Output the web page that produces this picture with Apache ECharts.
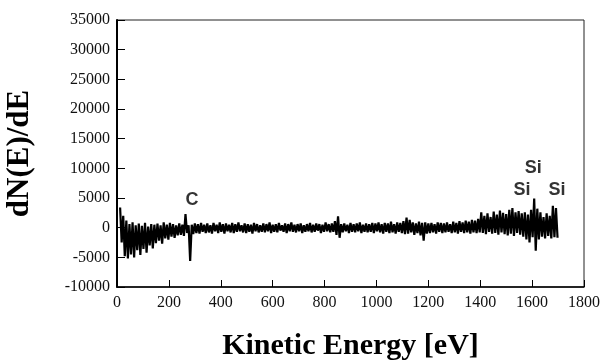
<!DOCTYPE html>
<html>
<head>
<meta charset="utf-8">
<script src="https://cdn.jsdelivr.net/npm/echarts@6/dist/echarts.min.js"></script>
<style>
  html, body { margin: 0; padding: 0; background: #fff; }
  #chart { width: 610px; height: 363px; }
</style>
</head>
<body>
<div id="chart"></div>
<script>
// spectrum sampled every 6 eV starting at 12 eV
const startEnergy = 12;
const stepEnergy = 6;
const signal = [
  3400, -2500, 2000, -4800, 1200, -5200, 600, -4500, 900, -5000,
  400, -3800, 700, -4600, 300, -3600, 800, -4200, 200, -3000,
  600, -3500, 500, -2600, 700, -2200, 400, -2700, 900, -1800,
  500, -2000, 800, -1500, 600, -1700, 400, -1300, 700, -1200,
  500, -1400, 2300, -900, 400, -5600, 500, -1100, 700, -900,
  600, -1000, 800, -700, 500, -900, 700, -800, 400, -1000,
  800, -600, 500, -900, 900, -700, 600, -1000, 700, -600,
  500, -800, 800, -900, 600, -700, 900, -600, 400, -800,
  700, -900, 600, -700, 500, -1000, 800, -600, 600, -800,
  400, -700, 700, -800, 600, -600, 900, -900, 500, -700,
  600, -800, 800, -500, 400, -700, 700, -900, 600, -600,
  900, -700, 500, -800, 600, -600, 700, -900, 400, -700,
  600, -600, 800, -800, 500, -700, 700, -500, 600, -900,
  500, -700, 900, -600, 600, -800, 700, -700, 1100, -1200,
  1900, -1700, 600, -800, 700, -600, 500, -900, 800, -700,
  600, -800, 700, -600, 900, -900, 500, -700, 700, -800,
  600, -700, 800, -900, 700, -600, 900, -800, 600, -1000,
  800, -700, 700, -900, 1000, -800, 600, -1000, 900, -700,
  800, -900, 1100, -1100, 1700, -1000, 1300, -800, 900, -1200,
  700, -900, 1000, -1300, 800, -2200, 900, -1000, 700, -900,
  800, -800, 600, -1000, 900, -700, 800, -900, 700, -800,
  900, -700, 600, -900, 1000, -800, 800, -1000, 1100, -700,
  900, -900, 1200, -800, 1000, -1000, 1300, -800, 1200, -900,
  1500, -800, 2600, -900, 2000, -1100, 2400, -700, 1800, -1000,
  2700, -900, 2200, -1200, 2900, -800, 2500, -1100, 2300, -1300,
  3000, -1000, 3300, -1400, 2600, -900, 2800, -1200, 2400, -1500,
  2600, -2000, 2200, -2500, 3000, -1600, 4900, -3900, 3200, -2000,
  2600, -1500, 1800, -1800, 2400, -1400, 2000, -1800, 3700, -1600,
  3300, -1700
];

// peak labels
const peakNames = ["C", "Si", "Si", "Si"];
const peakEnergy = [289, 1604, 1561, 1696];
const peakLevel = [4620, 10100, 6340, 6340];

const xTicks = { min: 0, max: 1800, interval: 200 };
const yTicks = { min: -10000, max: 35000, interval: 5000 };

const chart = echarts.init(document.getElementById("chart"));

const points = signal.map((v, i) => [startEnergy + i * stepEnergy, v]);
const labels = peakNames.map((n, i) => ({ name: n, value: [peakEnergy[i], peakLevel[i]] }));

const serif = "Liberation Serif";

chart.setOption({
  animation: false,
  backgroundColor: "#fff",
  grid: {
    left: 117,
    right: 26,
    top: 20,
    bottom: 76,
    outerBoundsMode: "none",
    show: true,
    borderColor: "#222",
    borderWidth: 1
  },
  xAxis: {
    type: "value",
    min: xTicks.min,
    max: xTicks.max,
    interval: xTicks.interval,
    name: "Kinetic Energy [eV]",
    nameLocation: "middle",
    nameGap: 44,
    nameTextStyle: { fontFamily: serif, fontWeight: "bold", fontSize: 30, color: "#000" },
    axisLine: { onZero: false, lineStyle: { color: "#000", width: 1.5 } },
    axisTick: { inside: true, length: 7, lineStyle: { color: "#000" } },
    axisLabel: { fontFamily: serif, fontSize: 16, color: "#111", margin: 8, formatter: (v) => String(v) },
    splitLine: { show: false }
  },
  yAxis: {
    type: "value",
    min: yTicks.min,
    max: yTicks.max,
    interval: yTicks.interval,
    name: "dN(E)/dE",
    nameLocation: "middle",
    nameRotate: 90,
    nameGap: 82,
    nameTextStyle: { fontFamily: serif, fontWeight: "bold", fontSize: 31, color: "#000" },
    axisLine: { show: true, onZero: false, lineStyle: { color: "#000", width: 2 } },
    axisTick: { show: true, inside: true, length: 8, lineStyle: { color: "#000" } },
    axisLabel: { fontFamily: serif, fontSize: 16, color: "#111", margin: 7, formatter: (v) => String(v) },
    splitLine: { show: false }
  },
  series: [
    {
      name: "spectrum",
      type: "line",
      data: points,
      showSymbol: false,
      lineStyle: { color: "#000", width: 2.2 }
    },
    {
      name: "peaks",
      type: "scatter",
      data: labels,
      symbolSize: 0,
      label: {
        show: true,
        position: "inside",
        formatter: (p) => p.name,
        fontFamily: "Liberation Sans",
        fontWeight: "bold",
        fontSize: 18,
        color: "#000"
      }
    }
  ]
});
</script>
</body>
</html>
